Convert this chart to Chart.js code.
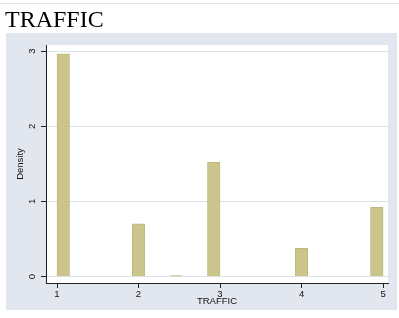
<!DOCTYPE html>
<html>
<head>
<meta charset="utf-8">
<title>TRAFFIC</title>
<script src="https://cdn.jsdelivr.net/npm/chart.js@4.4.0/dist/chart.umd.min.js"></script>
<style>
  html, body { margin: 0; padding: 0; background: #fff; }
  #wrap { position: relative; width: 399px; height: 318px; overflow: hidden; }
  #rule { position: absolute; left: 0; top: 3px; width: 399px; height: 1px; background: #dfe4ec; }
  #title {
    position: absolute; left: 5px; top: 7px;
    font: 24px/24px "Liberation Serif", "Times New Roman", serif;
    color: #000;
  }
  #chart { position: absolute; left: 0; top: 0; }
</style>
</head>
<body>
<div id="wrap">
  <canvas id="chart" width="399" height="318"></canvas>
  <div id="rule"></div>
  <div id="title">TRAFFIC</div>
</div>
<script>
(function () {
  'use strict';

  // 26 bins between 1 and 5, density per bin
  const binStart = 1;
  const binEnd = 5;
  const densities = [
    2.964, 0, 0, 0, 0, 0,
    0.702, 0, 0,
    0.013, 0, 0,
    1.521, 0, 0, 0, 0, 0, 0,
    0.377, 0, 0, 0, 0, 0,
    0.923
  ];
  const xTicks = [1, 2, 3, 4, 5];
  const yTicks = [0, 1, 2, 3];

  const binWidth = (binEnd - binStart) / densities.length;
  const points = densities.map((d, i) => ({ x: binStart + (i + 0.5) * binWidth, y: d }));

  const FONT = { family: "'Liberation Sans', Arial, sans-serif", size: 9.5 };
  const BG = '#e1e6ef';
  const GRID = '#dbe2ec';
  const AXIS = '#222222';

  // gray outer box + white plot region, Stata style
  const backdrop = {
    id: 'backdrop',
    beforeDraw(chart) {
      const ctx = chart.ctx;
      const a = chart.chartArea;
      ctx.save();
      ctx.fillStyle = '#ffffff';
      ctx.fillRect(0, 0, chart.width, chart.height);
      ctx.fillStyle = BG;
      ctx.fillRect(6, 33, 391, 277);
      ctx.fillStyle = '#ffffff';
      ctx.fillRect(a.left, a.top, a.right - a.left, a.bottom - a.top);
      ctx.restore();
    }
  };

  new Chart(document.getElementById('chart'), {
    type: 'bar',
    data: {
      datasets: [{
        data: points,
        backgroundColor: '#ccc58b',
        borderColor: '#c0b87c',
        borderWidth: 1,
        borderSkipped: 'start',
        barPercentage: 1,
        categoryPercentage: 1
      }]
    },
    options: {
      responsive: false,
      animation: false,
      events: [],
      layout: { padding: { top: 45, right: 11, left: 6, bottom: 8 } },
      plugins: { legend: { display: false }, tooltip: { enabled: false }, title: { display: false } },
      scales: {
        x: {
          type: 'linear',
          offset: false,
          min: 0.865,
          max: 5.061,
          afterBuildTicks: (s) => { s.ticks = xTicks.map(v => ({ value: v })); },
          afterFit: (s) => { s.height = 27; },
          grid: { offset: false, drawOnChartArea: false, tickLength: 5, tickColor: AXIS, color: AXIS },
          border: { color: AXIS, width: 1 },
          ticks: { font: FONT, color: '#111', padding: 1, maxRotation: 0, autoSkip: false },
          title: { display: true, text: 'TRAFFIC', font: FONT, color: '#111', padding: { top: 0, bottom: 2.6 } }
        },
        y: {
          min: -0.084,
          max: 3.08,
          afterBuildTicks: (s) => { s.ticks = yTicks.map(v => ({ value: v })); },
          afterFit: (s) => { s.width = 40; },
          grid: { color: GRID, tickLength: 5, tickColor: AXIS },
          border: { color: AXIS, width: 1 },
          ticks: { font: FONT, color: '#111', padding: 6, minRotation: 90, maxRotation: 90, crossAlign: 'center' },
          title: { display: true, text: 'Density', font: FONT, color: '#111', padding: { top: 9, bottom: 0 } }
        }
      }
    },
    plugins: [backdrop]
  });
})();
</script>
</body>
</html>
